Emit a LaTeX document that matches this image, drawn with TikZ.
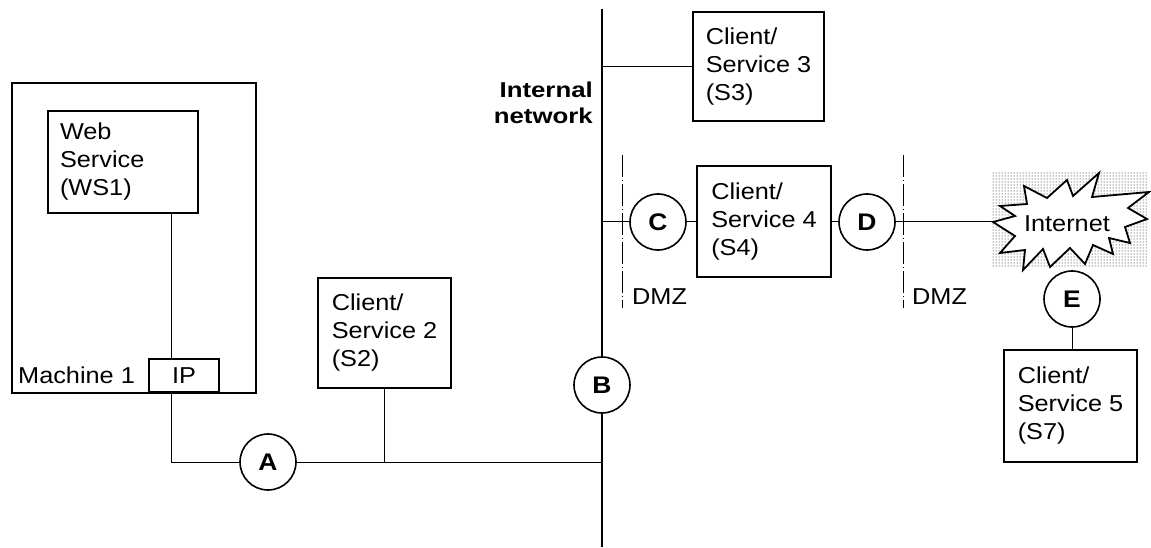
\documentclass[tikz,border=0pt]{standalone}
\usepackage{fontspec}
\setmainfont{Liberation Sans}[FakeStretch=1.1]
\newfontfamily\widebold{Liberation Sans}[FakeStretch=1.2]
\usetikzlibrary{patterns}
\begin{document}
\begin{tikzpicture}[x=1pt,y=-1pt,
  box/.style={draw,line width=2pt,align=left,fill=white,font=\fontsize{23}{28}\selectfont},
  hub/.style={draw,circle,fill=white,line width=1.6pt,minimum size=56pt,inner sep=0pt,font=\fontsize{24}{28}\selectfont\bfseries},
  wire/.style={line width=1pt},
  netline/.style={line width=1.3pt},
  dmzline/.style={line width=1pt,dash pattern=on 22pt off 3pt on 1pt off 3pt},
  lbl/.style={font=\fontsize{23}{28}\selectfont,inner sep=0pt}]
\useasboundingbox (0,0) rectangle (1151,548);

% coordinates
\coordinate (ntop) at (602,9);
\coordinate (nbot) at (602,547);
\coordinate (tapx) at (171,0);
\coordinate (bjoin) at (602,462);
\coordinate (dzat) at (622,155);
\coordinate (dzab) at (622,308);
\coordinate (dzbt) at (903,155);
\coordinate (dzbb) at (903,308);
\coordinate (tip) at (993,222);

% machine 1
\node[box,minimum width=244pt,minimum height=310pt] (m1) at (134,238) {};
\node[box,text width=126pt,inner xsep=12pt,minimum height=102pt] (ws1) at (123,162) {Web\\Service\\(WS1)};
\node[box,minimum width=70pt,minimum height=33pt,inner sep=0pt] (ip) at (184,375.5) {IP};
\node[lbl,anchor=base west] (m1lbl) at (18,383) {Machine 1};

% other boxes
\node[box,minimum width=133pt,minimum height=110pt] (s2) at (384.5,333) {Client/\\Service 2\\(S2)};
\node[box,minimum width=131pt,minimum height=109pt] (s3) at (758.5,66.5) {Client/\\Service 3\\(S3)};
\node[box,minimum width=134pt,minimum height=111pt] (s4) at (764,221.5) {Client/\\Service 4\\(S4)};
\node[box,minimum width=133pt,minimum height=112pt] (s5) at (1070.5,406) {Client/\\Service 5\\(S7)};

% hubs
\node[hub] (A) at (268,462) {A};
\node[hub] (B) at (602,385) {B};
\node[hub] (C) at (658,222) {C};
\node[hub] (D) at (867,222) {D};
\node[hub] (E) at (1072,299) {E};

% internal network label
\node[font=\fontsize{21.5}{26}\widebold\bfseries,align=right,anchor=east,inner sep=0pt] (inet) at (593,103) {Internal\\network};

% DMZ
\draw[dmzline] (dzat) -- (dzab);
\draw[dmzline] (dzbt) -- (dzbb);
\node[lbl,anchor=base west] (dmz1) at (632,304) {DMZ};
\node[lbl,anchor=base west] (dmz2) at (912,304) {DMZ};

% internet
\fill[pattern=dots,pattern color=black] (992,172) rectangle (1148,267);
\draw[line width=1.8pt,fill=white,line join=miter,miter limit=20]
  (tip) -- (1015,216) -- (1000,206) -- (1027,204) -- (1024,186) -- (1047,198)
  -- (1067,180) -- (1073,196) -- (1099,173) -- (1092,197) -- (1149,192)
  -- (1128,208) -- (1147,219) -- (1125,227) -- (1130,243) -- (1109,238)
  -- (1113,254) -- (1093,245) -- (1085,264) -- (1070,248) -- (1050,267)
  -- (1043,249) -- (1023,270) -- (1025,250) -- (1000,253) -- (1015,236) -- cycle;
\node[lbl] (inter) at (1067,224) {Internet};

% network backbone
\draw[netline] (ntop) -- (B.north);
\draw[netline] (B.south) -- (nbot);

% connectors
\draw[wire] (ws1.south -| tapx) -- (ip.north -| tapx);
\draw[wire] (ip.south -| tapx) |- (A.west);
\draw[wire] (A.east) -- (bjoin);
\draw[wire] (s2.south) -- (s2.south |- bjoin);
\draw[wire] (s3.west -| ntop) -- (s3.west);
\draw[wire] (C.west -| ntop) -- (C.west);
\draw[wire] (C.east) -- (C.east -| s4.west);
\draw[wire] (D.west -| s4.east) -- (D.west);
\draw[wire] (D.east) -- (tip);
\draw[wire] (E.south) -- (E.south |- s5.north);
\end{tikzpicture}
\end{document}
